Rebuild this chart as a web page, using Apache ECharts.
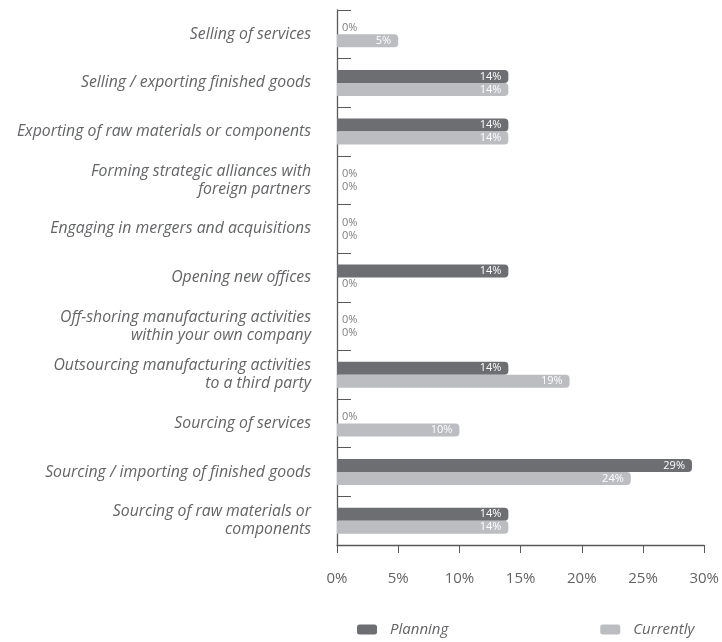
<!DOCTYPE html>
<html>
<head>
<meta charset="utf-8">
<script src="https://cdn.jsdelivr.net/npm/echarts@6/dist/echarts.min.js"></script>
<style>
  html, body { margin: 0; padding: 0; background: #fff; }
  #chart { width: 722px; height: 642px; }
</style>
</head>
<body>
<div id="chart"></div>
<script>
// Activities, listed top to bottom
const categories = [
  'Selling of services',
  'Selling / exporting finished goods',
  'Exporting of raw materials or components',
  'Forming strategic alliances with\nforeign partners',
  'Engaging in mergers and acquisitions',
  'Opening new offices',
  'Off-shoring manufacturing activities\nwithin your own company',
  'Outsourcing manufacturing activities\nto a third party',
  'Sourcing of services',
  'Sourcing / importing of finished goods',
  'Sourcing of raw materials or\ncomponents'
];
// Share of respondents (%)
const planning  = [0, 14, 14, 0, 0, 14, 0, 14, 0, 29, 14];
const currently = [5, 14, 14, 0, 0, 0, 0, 19, 10, 24, 14];
const xTicks = [0, 5, 10, 15, 20, 25, 30];

const FONT = '"Open Sans", "Noto Sans", sans-serif';
const DARK = '#6d6e71';
const LIGHT = '#bcbdc0';
const AXIS = '#58595b';
const TEXT = '#636466';

function toItems(values) {
  return values.map(v => {
    if (v === 0) {
      return {
        value: v,
        label: { position: 'right', distance: 5, color: '#808184' }
      };
    }
    return { value: v };
  });
}

function barSeries(name, values, color) {
  return {
    name: name,
    type: 'bar',
    barWidth: 13,
    barGap: '0%',
    data: toItems(values),
    itemStyle: { color: color, borderRadius: [0, 4, 4, 0] },
    label: {
      show: true,
      position: 'insideRight',
      distance: 7,
      color: '#ffffff',
      fontFamily: FONT,
      fontSize: 11,
      formatter: p => p.value + '%'
    }
  };
}

const chart = echarts.init(document.getElementById('chart'));
chart.setOption({
  animation: false,
  grid: { left: 337, right: 16, top: 10, bottom: 97 },
  xAxis: {
    type: 'value',
    min: 0,
    max: 30,
    interval: 5,
    axisLine: { show: true, lineStyle: { color: AXIS, width: 1.3 } },
    axisTick: { show: true, length: 8, lineStyle: { color: AXIS } },
    splitLine: { show: false },
    axisLabel: {
      margin: 26,
      color: TEXT,
      fontFamily: FONT,
      fontSize: 15,
      formatter: v => xTicks.includes(v) ? v + '%' : ''
    }
  },
  yAxis: {
    type: 'category',
    inverse: true,
    data: categories,
    axisLine: { show: true, lineStyle: { color: AXIS, width: 1.3 } },
    axisTick: { show: true, inside: true, length: 14, lineStyle: { color: AXIS } },
    axisLabel: {
      margin: 26,
      color: TEXT,
      fontFamily: FONT,
      fontStyle: 'italic',
      fontSize: 15.8,
      lineHeight: 18,
      align: 'right',
      padding: [3, 0, 0, 0]
    }
  },
  legend: {
    bottom: 0,
    left: 352,
    itemGap: 152,
    icon: 'roundRect',
    itemWidth: 20,
    itemHeight: 10,
    textStyle: {
      color: TEXT,
      fontFamily: FONT,
      fontStyle: 'italic',
      fontSize: 15,
      padding: [0, 0, 0, 8]
    },
    data: ['Planning', 'Currently']
  },
  series: [
    barSeries('Planning', planning, DARK),
    barSeries('Currently', currently, LIGHT)
  ]
});
</script>
</body>
</html>
